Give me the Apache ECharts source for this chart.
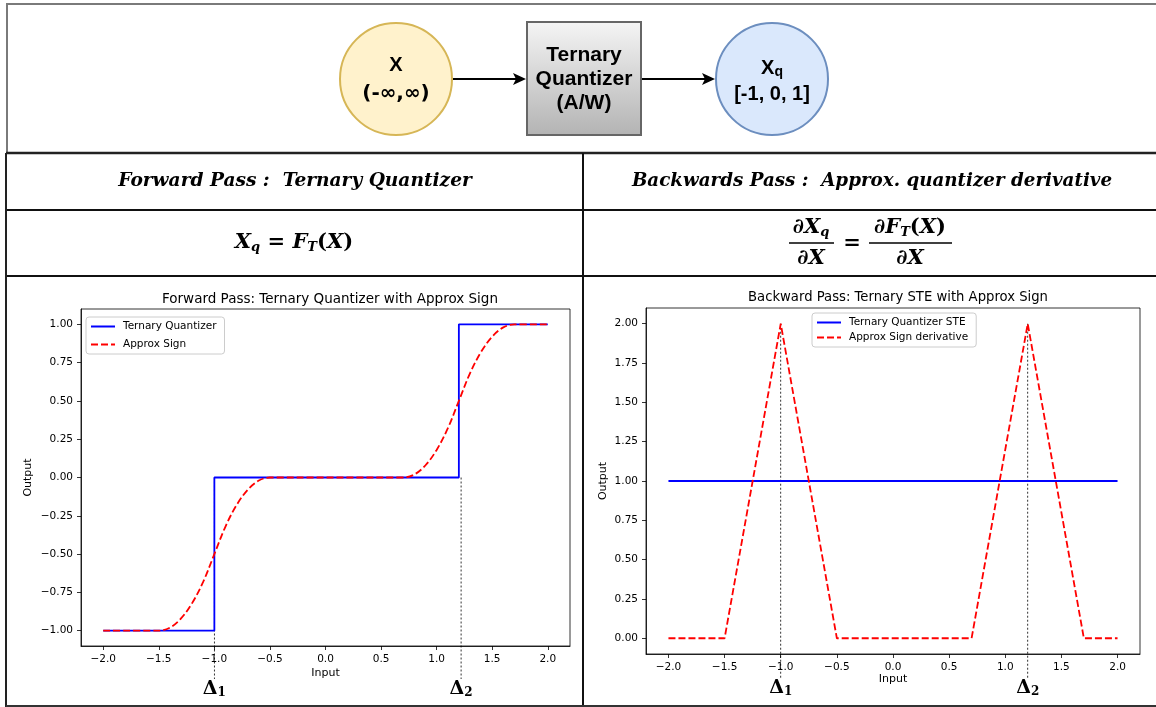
<!DOCTYPE html>
<html>
<head>
<meta charset="utf-8">
<script src="https://cdn.jsdelivr.net/npm/echarts@6/dist/echarts.min.js"></script>
<style>
  html, body { margin: 0; padding: 0; background: #ffffff; }
  #c { width: 1156px; height: 707px; }
</style>
</head>
<body>
<div id="c"></div>
<script>
// ---------- data ----------
const xTicks = [-2, -1.5, -1, -0.5, 0, 0.5, 1, 1.5, 2];
const yTicksFwd = [-1, -0.75, -0.5, -0.25, 0, 0.25, 0.5, 0.75, 1];
const yTicksBwd = [0, 0.25, 0.5, 0.75, 1, 1.25, 1.5, 1.75, 2];

// Forward pass: ternary quantizer (step)
const fwdQuantX = [-2, -1, -1, 1.2, 1.2, 2];
const fwdQuantY = [-1, -1, 0, 0, 1, 1];
// Forward pass: approx sign (smooth curve)
const fwdApproxX = [-2, -1.5, -1.4, -1.3, -1.2, -1.1, -1.0, -0.9, -0.8, -0.7, -0.6, -0.5,
                    0.7, 0.8, 0.9, 1.0, 1.1, 1.2, 1.3, 1.4, 1.5, 1.6, 1.7, 2];
const fwdApproxY = [-1, -1, -0.98, -0.92, -0.82, -0.68, -0.5, -0.32, -0.18, -0.08, -0.02, 0,
                    0, 0.02, 0.08, 0.18, 0.32, 0.5, 0.68, 0.82, 0.92, 0.98, 1, 1];

// Backward pass: STE (constant) and approx sign derivative (triangles)
const bwdSteX = [-2, 2];
const bwdSteY = [1, 1];
const bwdApproxX = [-2, -1.5, -1.0, -0.5, 0.7, 1.2, 1.7, 2];
const bwdApproxY = [0, 0, 2, 0, 0, 2, 0, 0];

// Threshold markers (Δ1, Δ2)
const fwdDeltaX = [-1.0, 1.22];
const fwdDeltaTop = [0, 0];
const bwdDeltaX = [-1.0, 1.2];
const bwdDeltaTop = [2, 2];
const deltaLabels = ['1', '2'];

const seriesNames = ['Ternary Quantizer', 'Approx Sign', 'Ternary Quantizer STE', 'Approx Sign derivative'];
const titles = ['Forward Pass: Ternary Quantizer with Approx Sign', 'Backward Pass: Ternary STE with Approx Sign'];

// ---------- helpers ----------
const zip = (xs, ys) => xs.map((x, i) => [x, ys[i]]);
const mfmt = (d) => (v) => (v < 0 ? '\u2212' : '') + Math.abs(v).toFixed(d);
const SANS = 'DejaVu Sans';
const SERIF = 'DejaVu Serif';

function deltaSeries(axisIdx, xs, tops, lineExt, labelOff) {
  return {
    type: 'custom', xAxisIndex: axisIdx, yAxisIndex: axisIdx, clip: false, silent: true, z: 3,
    data: zip(xs, tops),
    renderItem: function (params, api) {
      const p = api.coord([api.value(0), api.value(1)]);
      const cs = params.coordSys;
      const yb = cs.y + cs.height;
      return {
        type: 'group',
        children: [
          { type: 'line', shape: { x1: p[0], y1: p[1], x2: p[0], y2: yb + lineExt },
            style: { stroke: '#000', lineWidth: 0.8, lineDash: [2, 2] } },
          { type: 'text', x: p[0], y: yb + labelOff,
            style: {
              text: '{d|\u0394}{s|' + deltaLabels[params.dataIndex] + '}',
              align: 'center', verticalAlign: 'middle',
              rich: {
                d: { fontFamily: SERIF, fontWeight: 'bold', fontSize: 19, fill: '#000', verticalAlign: 'bottom' },
                s: { fontFamily: SERIF, fontWeight: 'bold', fontSize: 12, fill: '#000', verticalAlign: 'bottom', padding: [8, 0, 0, 0] }
              }
            } }
        ]
      };
    }
  };
}

function xAxisCfg(gi, nameGap) {
  return {
    type: 'value', gridIndex: gi, min: -2.2, max: 2.2,
    name: 'Input', nameLocation: 'middle', nameGap: nameGap,
    nameTextStyle: { fontFamily: SANS, fontSize: 11, color: '#000' },
    axisLine: { show: true, onZero: false, lineStyle: { color: '#000', width: 0.8 } },
    axisTick: { show: true, length: 4, customValues: xTicks, lineStyle: { color: '#000', width: 0.8 } },
    axisLabel: { customValues: xTicks, formatter: mfmt(1), fontFamily: SANS, fontSize: 10.5, color: '#000', margin: 8 },
    splitLine: { show: false }
  };
}
function yAxisCfg(gi, min, max, ticks, nameGap) {
  return {
    type: 'value', gridIndex: gi, min: min, max: max,
    name: 'Output', nameLocation: 'middle', nameGap: nameGap, nameRotate: 90,
    nameTextStyle: { fontFamily: SANS, fontSize: 11, color: '#000' },
    axisLine: { show: true, onZero: false, lineStyle: { color: '#000', width: 0.8 } },
    axisTick: { show: true, length: 4, customValues: ticks, lineStyle: { color: '#000', width: 0.8 } },
    axisLabel: { customValues: ticks, formatter: mfmt(2), fontFamily: SANS, fontSize: 10.5, color: '#000', margin: 8 },
    splitLine: { show: false }
  };
}

function legendCfg(left, top, names, gap) {
  return {
    orient: 'vertical', left: left, top: top, data: names,
    itemWidth: 24, itemHeight: 10, itemGap: gap,
    itemStyle: { opacity: 0, borderWidth: 0 },
    padding: [4, 8, 4, 4],
    backgroundColor: 'rgba(255,255,255,0.85)', borderColor: '#cccccc', borderWidth: 1, borderRadius: 3,
    textStyle: { fontFamily: SANS, fontSize: 10.5, color: '#000', padding: [0, 0, 0, 3] },
    selectedMode: false
  };
}

// ---------- decorative diagram + table (graphic) ----------
const BOLD_SANS = 'bold 20px "Liberation Sans", Arial, sans-serif';
function T(x, y, text, font, extra) {
  const st = Object.assign({ text: text, font: font, fill: '#000',
    align: 'center', verticalAlign: 'middle', textAlign: 'center', textVerticalAlign: 'middle' }, extra || {});
  return { type: 'text', x: x, y: y, style: st, z: 10 };
}
function L(x1, y1, x2, y2, w, c) {
  return { type: 'line', shape: { x1: x1, y1: y1, x2: x2, y2: y2 }, style: { stroke: c || '#111', lineWidth: w || 2 }, z: 10 };
}
function arrow(x1, x2, y) {
  return [
    L(x1, y, x2 - 10, y, 2, '#000'),
    { type: 'polygon', shape: { points: [[x2, y], [x2 - 13, y - 6], [x2 - 10, y], [x2 - 13, y + 6]] }, style: { fill: '#000' }, z: 10 }
  ];
}
const EQ = { fontFamily: SERIF, fontWeight: 'bold', fontStyle: 'italic', fontSize: 21, fill: '#000' };
const EQN = { fontFamily: SERIF, fontWeight: 'bold', fontStyle: 'normal', fontSize: 21, fill: '#000' };
const EQS = { fontFamily: SERIF, fontWeight: 'bold', fontStyle: 'italic', fontSize: 13, fill: '#000', padding: [9, 0, 0, 0] };
const eqRich = { i: EQ, n: EQN, s: EQS };
const HDR = 'italic bold 18.6px "DejaVu Serif", serif';

const graphics = [
  // outer frame of top area
  { type: 'polyline', shape: { points: [[1160, 4], [7, 4], [7, 153]] }, style: { stroke: '#7a7a7a', lineWidth: 2, fill: null }, z: 10 },
  // table lines
  L(6, 153, 1160, 153, 2.5, '#222'),
  L(6, 210, 1160, 210, 2, '#111'),
  L(6, 276, 1160, 276, 2, '#111'),
  L(583, 153, 583, 707, 2, '#111'),
  L(6, 153, 6, 707, 2, '#222'),
  L(6, 706, 1160, 706, 2, '#333'),
  // circle X
  { type: 'circle', shape: { cx: 396, cy: 79, r: 56 }, style: { fill: '#fff2cc', stroke: '#d6b656', lineWidth: 2 }, z: 10 },
  T(396, 65, 'X', BOLD_SANS),
  T(396, 94, '(-\u221e,\u221e)', 'bold 20px "DejaVu Sans", sans-serif'),
  // box
  { type: 'rect', shape: { x: 527, y: 22, width: 114, height: 113 },
    style: { fill: new echarts.graphic.LinearGradient(0, 0, 0, 1, [{ offset: 0, color: '#f5f5f5' }, { offset: 1, color: '#b3b3b3' }]),
             stroke: '#666666', lineWidth: 2 }, z: 10 },
  T(584, 55, 'Ternary', 'bold 21px "Liberation Sans", Arial, sans-serif'),
  T(584, 79, 'Quantizer', 'bold 21px "Liberation Sans", Arial, sans-serif'),
  T(584, 103, '(A/W)', 'bold 21px "Liberation Sans", Arial, sans-serif'),
  // circle Xq
  { type: 'circle', shape: { cx: 772, cy: 79, r: 56 }, style: { fill: '#dae8fc', stroke: '#6c8ebf', lineWidth: 2 }, z: 10 },
  T(772, 68, '{a|X}{b|q}', BOLD_SANS, { rich: {
    a: { font: BOLD_SANS, fill: '#000' },
    b: { font: 'bold 14px "Liberation Sans", Arial, sans-serif', fill: '#000', padding: [9, 0, 0, 0] } } }),
  T(772, 94, '[-1, 0, 1]', BOLD_SANS),
  ...arrow(453, 526, 79),
  ...arrow(642, 715, 79),
  // headers
  T(295, 181, 'Forward Pass :  Ternary Quantizer', HDR),
  T(872, 181, 'Backwards Pass :  Approx. quantizer derivative', 'italic bold 18.3px "DejaVu Serif", serif'),
  // left equation
  T(294, 243, '{i|X}{s|q}{n| = }{i|F}{s|T}{n|(}{i|X}{n|)}', 'bold 21px "DejaVu Serif"', { rich: eqRich }),
  // right equation (fractions)
  T(811, 228, '{n|\u2202}{i|X}{s|q}', 'bold 21px "DejaVu Serif"', { rich: eqRich }),
  L(789, 243, 834, 243, 1.6, '#000'),
  T(811, 259, '{n|\u2202}{i|X}', 'bold 21px "DejaVu Serif"', { rich: eqRich }),
  T(852, 244, '{n|=}', 'bold 21px "DejaVu Serif"', { rich: eqRich }),
  T(910, 228, '{n|\u2202}{i|F}{s|T}{n|(}{i|X}{n|)}', 'bold 21px "DejaVu Serif"', { rich: eqRich }),
  L(869, 243, 952, 243, 1.6, '#000'),
  T(910, 259, '{n|\u2202}{i|X}', 'bold 21px "DejaVu Serif"', { rich: eqRich })
];

// ---------- chart ----------
const chart = echarts.init(document.getElementById('c'), null, { renderer: 'canvas' });
const lineBase = { type: 'line', symbol: 'none', showSymbol: false, animation: false };
const DASH = [7, 3];
chart.setOption({
  animation: false,
  backgroundColor: '#ffffff',
  title: [
    { text: titles[0], left: 325, top: 287, textAlign: 'center',
      textStyle: { fontFamily: SANS, fontSize: 13.5, fontWeight: 'normal', color: '#000' } },
    { text: titles[1], left: 893, top: 286, textAlign: 'center',
      textStyle: { fontFamily: SANS, fontSize: 13.2, fontWeight: 'normal', color: '#000' } }
  ],
  grid: [
    { left: 81, top: 309, width: 489, height: 337, show: true, borderColor: '#000', borderWidth: 0.8, backgroundColor: 'transparent' },
    { left: 646, top: 308, width: 494, height: 346, show: true, borderColor: '#000', borderWidth: 0.8, backgroundColor: 'transparent' }
  ],
  xAxis: [xAxisCfg(0, 22), xAxisCfg(1, 19)],
  yAxis: [yAxisCfg(0, -1.1, 1.1, yTicksFwd, 47), yAxisCfg(1, -0.1, 2.1, yTicksBwd, 37)],
  legend: [
    legendCfg(86, 317, [seriesNames[0], seriesNames[1]], 7),
    legendCfg(812, 313, [seriesNames[2], seriesNames[3]], 4)
  ],
  graphic: { elements: graphics },
  series: [
    Object.assign({}, lineBase, { name: seriesNames[0], xAxisIndex: 0, yAxisIndex: 0, data: zip(fwdQuantX, fwdQuantY),
      lineStyle: { color: '#0000ff', width: 1.8 }, itemStyle: { color: '#0000ff' } }),
    Object.assign({}, lineBase, { name: seriesNames[1], xAxisIndex: 0, yAxisIndex: 0, data: zip(fwdApproxX, fwdApproxY),
      smooth: 0.35,
      lineStyle: { color: '#ff0000', width: 1.8, type: DASH }, itemStyle: { color: '#ff0000' } }),
    deltaSeries(0, fwdDeltaX, fwdDeltaTop, 33, 43),
    Object.assign({}, lineBase, { name: seriesNames[2], xAxisIndex: 1, yAxisIndex: 1, data: zip(bwdSteX, bwdSteY),
      lineStyle: { color: '#0000ff', width: 1.8 }, itemStyle: { color: '#0000ff' } }),
    Object.assign({}, lineBase, { name: seriesNames[3], xAxisIndex: 1, yAxisIndex: 1, data: zip(bwdApproxX, bwdApproxY),
      lineStyle: { color: '#ff0000', width: 1.8, type: DASH }, itemStyle: { color: '#ff0000' } }),
    deltaSeries(1, bwdDeltaX, bwdDeltaTop, 25, 34)
  ]
});
</script>
</body>
</html>
